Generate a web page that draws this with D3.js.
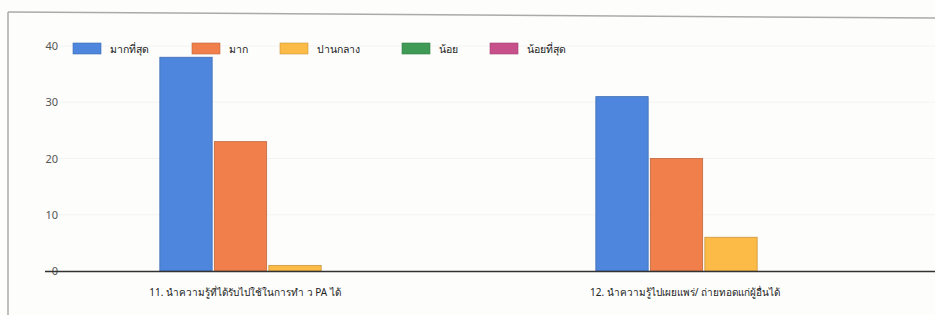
<html>
  <head>
    <meta charset="utf-8">
    <style>
body { margin: 0; background: #fdfdfc; }
text { font-family: "Noto Sans", "DejaVu Sans", sans-serif; }
.tick text { fill: #555; font-size: 11px; }
.label { fill: #222; font-size: 10px; }
.legend text { fill: #222; font-size: 10.5px; }
    </style>
  </head>
  <body>
    <svg width="935" height="315"></svg>
    <script src="https://d3js.org/d3.v7.min.js"></script>
    <script>

var categories = ["11. นำความรู้ที่ได้รับไปใช้ในการทำ ว PA ได้", "12. นำความรู้ไปเผยแพร่/ ถ่ายทอดแก่ผู้อื่นได้"];
var series = ["มากที่สุด", "มาก", "ปานกลาง", "น้อย", "น้อยที่สุด"];
var colors = ["#4d86dc", "#f07f4b", "#fbbb46", "#3f9a55", "#c7508a"];
var values = [
  [38, 31],   // มากที่สุด
  [23, 20],   // มาก
  [1, 6],     // ปานกลาง
  [0, 0],     // น้อย
  [0, 0]      // น้อยที่สุด
];
var yTicks = [0, 10, 20, 30, 40];

var svg = d3.select("svg"),
    plotLeft = 45, plotTop = 46, base = 271;

// scanned page frame
svg.append("line").attr("x1", 8).attr("y1", 12).attr("x2", 935).attr("y2", 18)
  .attr("stroke", "#aaa").attr("stroke-width", 1.5);
svg.append("line").attr("x1", 8).attr("y1", 12).attr("x2", 8).attr("y2", 315)
  .attr("stroke", "#aaa").attr("stroke-width", 1.5);

var y = d3.scaleLinear().domain([0, 40]).range([base, plotTop]);

var x0 = d3.scaleBand().domain(categories).range([77, 949]).paddingInner(0.38).paddingOuter(0.19);
var x1 = d3.scaleBand().domain(series).range([0, x0.bandwidth()]).paddingInner(0.04);

// faint gridlines
svg.append("g").selectAll("line").data(yTicks.slice(1)).enter().append("line")
  .attr("x1", plotLeft).attr("x2", 935)
  .attr("y1", function(d) { return y(d); }).attr("y2", function(d) { return y(d); })
  .attr("stroke", "#f3f3f3");

// y axis labels
var ya = svg.append("g")
  .attr("transform", "translate(58,0)")
  .call(d3.axisLeft(y).tickValues(yTicks).tickSize(0).tickPadding(0));
ya.select(".domain").remove();

// bars
var rows = [];
series.forEach(function(s, i) {
  categories.forEach(function(c, j) {
    rows.push({cat: c, s: s, color: colors[i], v: values[i][j]});
  });
});

svg.append("g").selectAll("rect")
  .data(rows.filter(function(d) { return d.v > 0; }))
  .enter().append("rect")
  .attr("x", function(d) { return x0(d.cat) + x1(d.s); })
  .attr("y", function(d) { return y(d.v); })
  .attr("width", x1.bandwidth())
  .attr("height", function(d) { return base - y(d.v); })
  .attr("fill", function(d) { return d.color; })
  .attr("stroke", function(d) { return d3.color(d.color).darker(0.6); })
  .attr("stroke-width", 0.8);

// baseline
svg.append("line").attr("x1", plotLeft).attr("x2", 935).attr("y1", base + 0.5).attr("y2", base + 0.5)
  .attr("stroke", "#333").attr("stroke-width", 1.5);

// category labels
var labelShift = [-50, -46];
svg.append("g").selectAll("text").data(categories).enter().append("text")
  .attr("class", "label")
  .attr("x", function(d, i) { return x0(d) + x0.bandwidth() / 2 + labelShift[i]; })
  .attr("y", 296)
  .attr("text-anchor", "middle")
  .text(function(d) { return d; });

// legend
var legendX = [73, 192, 280, 402, 490];
var lg = svg.append("g").attr("class", "legend").selectAll("g").data(series).enter().append("g")
  .attr("transform", function(d, i) { return "translate(" + legendX[i] + ",43)"; });
lg.append("rect").attr("width", 28).attr("height", 11)
  .attr("fill", function(d, i) { return colors[i]; })
  .attr("stroke", function(d, i) { return d3.color(colors[i]).darker(0.6); })
  .attr("stroke-width", 0.6);
lg.append("text").attr("x", 37).attr("y", 9.5).text(function(d) { return d; });

    </script>
  </body>
</html>
